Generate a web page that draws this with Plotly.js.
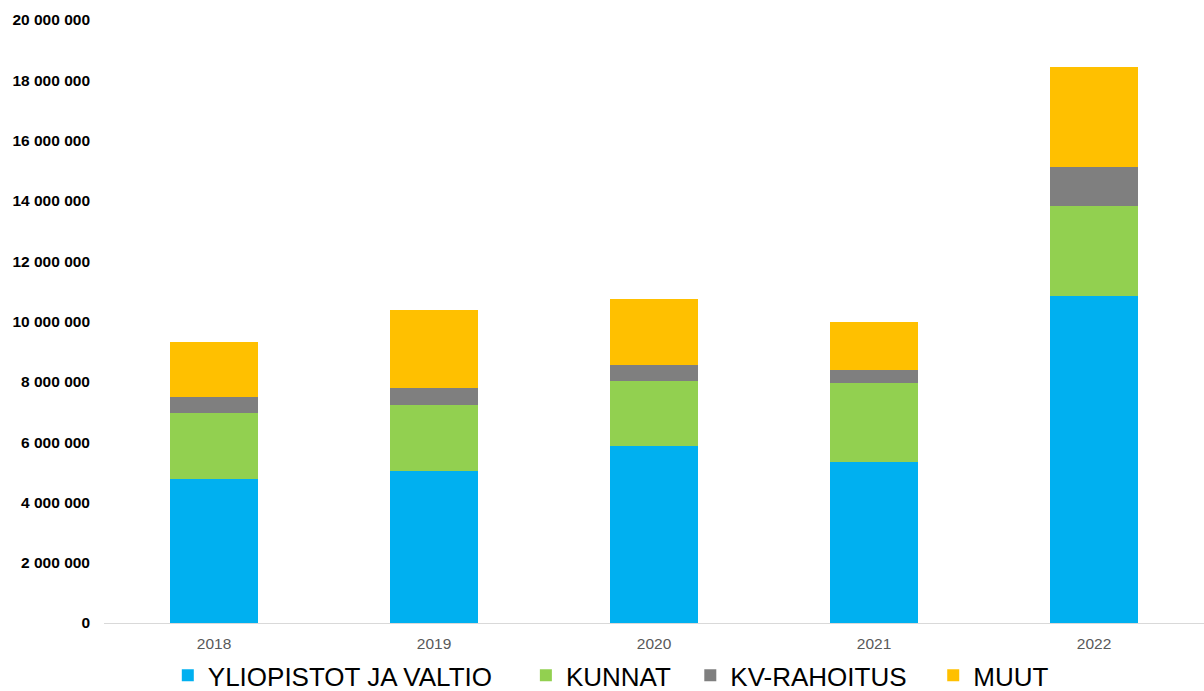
<!DOCTYPE html>
<html>
<head>
<meta charset="utf-8">
<script src="https://cdn.plot.ly/plotly-3.0.1.min.js"></script>
<style>html,body{margin:0;padding:0;background:#fff;}#chart{width:1204px;height:691px;}</style>
</head>
<body>
<div id="chart"></div>
<script>
const years = ['2018', '2019', '2020', '2021', '2022'];
const yliopistotJaValtio = [4780000, 5030000, 5860000, 5350000, 10860000];
const kunnat = [2190000, 2210000, 2160000, 2600000, 2960000];
const kvRahoitus = [530000, 540000, 530000, 430000, 1320000];
const muut = [1830000, 2590000, 2210000, 1590000, 3310000];
const seriesNames = ['YLIOPISTOT JA VALTIO', 'KUNNAT', 'KV-RAHOITUS', 'MUUT'];
const seriesColors = ['#00B0F0', '#92D050', '#7F7F7F', '#FFC000'];
const yTickVals = [0, 2000000, 4000000, 6000000, 8000000, 10000000, 12000000, 14000000, 16000000, 18000000, 20000000];

// trailing non-breaking spaces only widen the gap between legend entries
const legendPad = ['\u00a0\u00a0\u00a0\u00a0', '\u00a0\u00a0', '\u00a0\u00a0\u00a0', ''];

const seriesValues = [yliopistotJaValtio, kunnat, kvRahoitus, muut];
const traces = seriesValues.map((vals, i) => ({
  type: 'bar',
  name: seriesNames[i] + legendPad[i],
  x: years,
  y: vals,
  marker: {color: seriesColors[i], line: {width: 0}},
  hoverinfo: 'x+y+name'
}));

const layout = {
  width: 1204,
  height: 691,
  barmode: 'stack',
  bargap: 0.6,
  separators: ', ',
  margin: {l: 104, r: 0, t: 20, b: 68, pad: 0, autoexpand: false},
  paper_bgcolor: '#ffffff',
  plot_bgcolor: '#ffffff',
  font: {family: 'Liberation Sans, Arial, sans-serif', color: '#000'},
  xaxis: {
    type: 'category',
    showgrid: false,
    showline: true,
    linecolor: '#D9D9D9',
    linewidth: 1,
    ticks: '',
    tickfont: {size: 15.5, color: '#595959'},
    ticklabelstandoff: 6,
    zeroline: false,
    automargin: false
  },
  yaxis: {
    range: [0, 20000000],
    tickvals: yTickVals,
    tickformat: ',d',
    showgrid: false,
    zeroline: false,
    showline: false,
    ticks: '',
    tickfont: {size: 15.5, color: '#000', weight: 'bold'},
    ticklabelstandoff: 13,
    automargin: false
  },
  showlegend: true,
  legend: {
    orientation: 'h',
    x: 0.058,
    xanchor: 'left',
    y: -0.087,
    yanchor: 'middle',
    font: {size: 26, color: '#000'},
    traceorder: 'normal',
    itemwidth: 30,
    tracegroupgap: 0,
    bgcolor: 'rgba(0,0,0,0)'
  }
};

Plotly.newPlot('chart', traces, layout, {displayModeBar: false, staticPlot: true});
</script>
</body>
</html>
